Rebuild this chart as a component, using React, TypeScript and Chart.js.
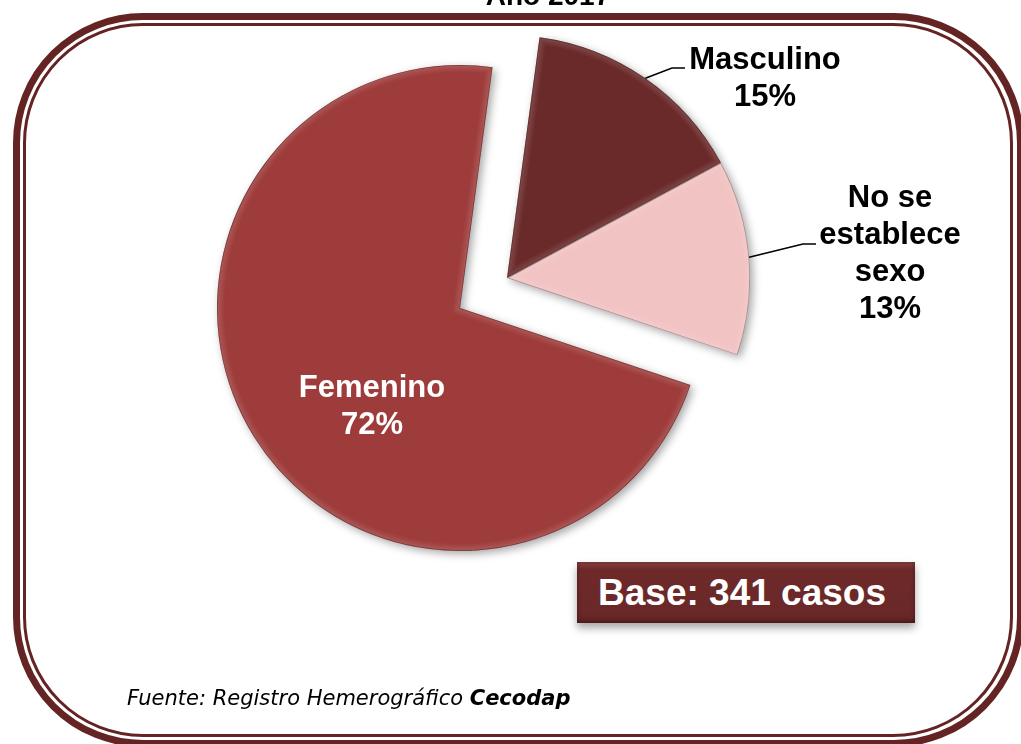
import React, { useEffect, useRef } from 'react';
import { Chart, registerables } from 'chart.js';

Chart.register(...registerables);

// ---- data ----
const categories = ['Masculino', 'No se establece sexo', 'Femenino'];
const labelLines = [['Masculino'], ['No se', 'establece', 'sexo'], ['Femenino']];
const percentages = [15, 13, 72];
const sliceColors = ['#6B2A2A', '#F2C3C3', '#9E3C3B'];
const titleText = 'Año 2017';
const baseText = 'Base: 341 casos';
const sourceText = 'Fuente: Registro Hemerográfico ';
const sourceBold = 'Cecodap';

// ---- layout / style ----
const FRAME = '#652424';
const EXPLODE = [
  { dx: 0, dy: 0 },
  { dx: 0, dy: 0 },
  { dx: -47, dy: 30 },
];
const LABEL_LAYOUT = [
  { x: 765, y: 69, color: '#000', elbow: [672, 68], end: [685, 68] },
  { x: 890, y: 207, color: '#000', elbow: [803, 244], end: [816, 244] },
  { x: 372, y: 397, color: '#fff', elbow: null as any, end: null as any },
];
const LABEL_FONT = 'bold 31px "Liberation Sans", Arial, sans-serif';
const LINE_H = 37;

function arcProps(arc: any) {
  return arc.getProps(['x', 'y', 'startAngle', 'endAngle', 'outerRadius'], true);
}

const piePlugin = {
  id: 'explodedPie',
  beforeDatasetsDraw(chart: any) {
    const ctx = chart.ctx as CanvasRenderingContext2D;
    const meta = chart.getDatasetMeta(0);
    meta.data.forEach((arc: any, i: number) => {
      const { dx, dy } = EXPLODE[i];
      ctx.save();
      ctx.translate(dx, dy);
      ctx.shadowColor = 'rgba(0,0,0,0.35)';
      ctx.shadowBlur = 8;
      ctx.shadowOffsetX = 3;
      ctx.shadowOffsetY = 3;
      arc.draw(ctx);
      ctx.restore();
    });
    // soft bevel rims
    meta.data.forEach((arc: any, i: number) => {
      const { dx, dy } = EXPLODE[i];
      const { x, y, startAngle, endAngle, outerRadius } = arcProps(arc);
      ctx.save();
      ctx.translate(dx, dy);
      ctx.beginPath();
      ctx.moveTo(x, y);
      ctx.arc(x, y, outerRadius, startAngle, endAngle);
      ctx.closePath();
      ctx.clip();
      ctx.lineJoin = 'miter';
      for (let w = 14; w >= 4; w -= 2) {
        ctx.lineWidth = w;
        ctx.strokeStyle = 'rgba(255,255,255,0.025)';
        ctx.stroke();
      }
      ctx.lineWidth = 1.5;
      ctx.strokeStyle = 'rgba(0,0,0,0.3)';
      ctx.stroke();
      ctx.restore();
    });
    return false;
  },
  afterDraw(chart: any) {
    const ctx = chart.ctx as CanvasRenderingContext2D;
    const meta = chart.getDatasetMeta(0);
    meta.data.forEach((arc: any, i: number) => {
      const { x, y, startAngle, endAngle, outerRadius } = arcProps(arc);
      const L = LABEL_LAYOUT[i];
      const { dx, dy } = EXPLODE[i];
      if (L.elbow) {
        const mid = (startAngle + endAngle) / 2;
        const sx = x + dx + Math.cos(mid) * outerRadius;
        const sy = y + dy + Math.sin(mid) * outerRadius;
        ctx.save();
        ctx.strokeStyle = '#000';
        ctx.lineWidth = 1.5;
        ctx.beginPath();
        ctx.moveTo(sx, sy);
        ctx.lineTo(L.elbow[0], L.elbow[1]);
        ctx.lineTo(L.end[0], L.end[1]);
        ctx.stroke();
        ctx.restore();
      }
      const lines = [...labelLines[i], `${percentages[i]}%`];
      ctx.save();
      ctx.font = LABEL_FONT;
      ctx.fillStyle = L.color;
      ctx.textAlign = 'center';
      ctx.textBaseline = 'alphabetic';
      lines.forEach((t, k) => ctx.fillText(t, L.x, L.y + k * LINE_H));
      ctx.restore();
    });

    ctx.save();
    ctx.fillStyle = '#000';
    ctx.textAlign = 'center';
    ctx.textBaseline = 'alphabetic';
    ctx.font = 'bold 28px "Liberation Sans", Arial, sans-serif';
    ctx.fillText(titleText, 548, 5);
    ctx.textAlign = 'left';
    ctx.font = 'italic 21px "DejaVu Sans", Verdana, sans-serif';
    ctx.fillText(sourceText, 127, 705);
    const w = ctx.measureText(sourceText).width;
    ctx.font = 'italic bold 21px "DejaVu Sans", Verdana, sans-serif';
    ctx.fillText(sourceBold, 127 + w, 705);
    ctx.restore();
  },
};

export default function App() {
  const ref = useRef<HTMLCanvasElement>(null);
  useEffect(() => {
    if (!ref.current) return;
    const chart = new Chart(ref.current, {
      type: 'pie',
      data: {
        labels: categories,
        datasets: [
          {
            data: percentages,
            backgroundColor: sliceColors,
            borderWidth: 0,
          },
        ],
      },
      options: {
        responsive: false,
        animation: false,
        events: [],
        rotation: 7.7,
        radius: 243,
        layout: { padding: { left: 0, right: 7, top: 0, bottom: 188 } },
        plugins: {
          legend: { display: false },
          tooltip: { enabled: false },
          title: { display: false },
        },
      } as any,
      plugins: [piePlugin as any],
    });
    return () => chart.destroy();
  }, []);

  return (
    <div
      style={{
        position: 'absolute',
        left: 0,
        top: 0,
        width: 1021,
        height: 744,
        overflow: 'hidden',
        background: '#fff',
      }}
    >
      <div
        style={{
          position: 'absolute',
          left: 13,
          top: 13,
          width: 1011,
          height: 734,
          boxSizing: 'border-box',
          border: `7px solid ${FRAME}`,
          borderRadius: 130,
        }}
      />
      <div
        style={{
          position: 'absolute',
          left: 23,
          top: 23,
          width: 990,
          height: 714,
          boxSizing: 'border-box',
          border: `3px solid ${FRAME}`,
          borderRadius: 120,
        }}
      />
      <div
        style={{
          position: 'absolute',
          left: 577,
          top: 562,
          width: 338,
          height: 61,
          boxSizing: 'border-box',
          background: 'linear-gradient(#8a4444 0%, #6e2a2a 12%, #6b2828 85%, #5a2020 100%)',
          boxShadow: '0 5px 8px rgba(0,0,0,0.35), inset 0 0 4px rgba(0,0,0,0.4)',
          color: '#fff',
          font: 'bold 37px "Liberation Sans", Arial, sans-serif',
          display: 'flex',
          alignItems: 'center',
          paddingLeft: 21,
          whiteSpace: 'nowrap',
        }}
      >
        {baseText}
      </div>
      <canvas
        ref={ref}
        width={1021}
        height={744}
        style={{ position: 'absolute', left: 0, top: 0, width: 1021, height: 744 }}
      />
    </div>
  );
}
